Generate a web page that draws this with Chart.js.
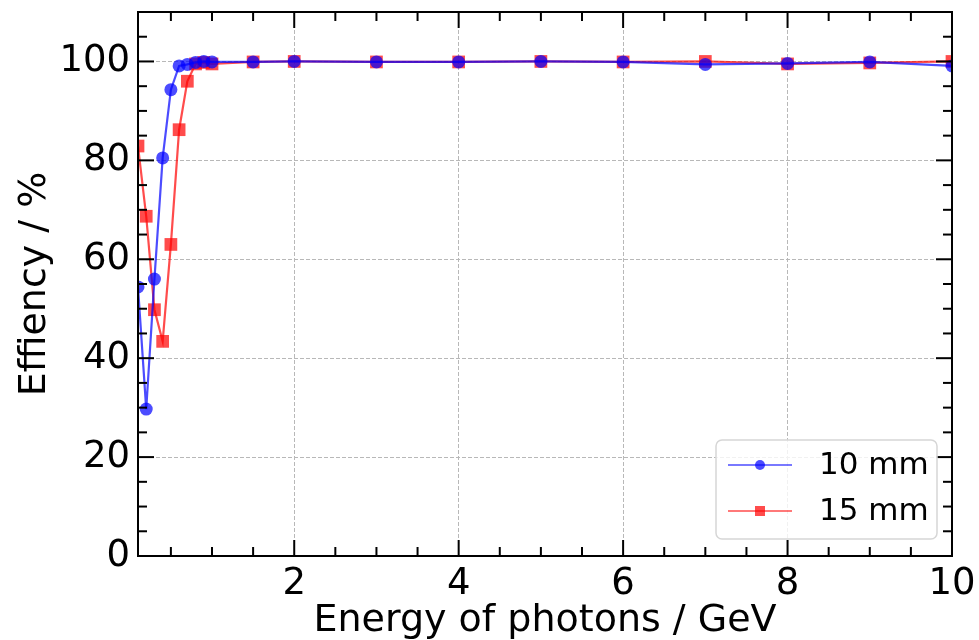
<!DOCTYPE html>
<html lang="en">
<head>
<meta charset="UTF-8" />
<title>Efficiency vs photon energy</title>
<script src="https://cdn.jsdelivr.net/npm/chart.js"></script>
<style>
  html, body { margin: 0; padding: 0; background: #fff; }
  #wrap { width: 979px; height: 640px; }
</style>
</head>
<body>
<div id="wrap"><canvas id="chart" width="979" height="640"></canvas></div>
<script>
// values
const energies = [0.1, 0.2, 0.3, 0.4, 0.5, 0.6, 0.7, 0.8, 0.9, 1.0, 1.5, 2, 3, 4, 5, 6, 7, 8, 9, 10];
const eff10mm = [54.4, 29.7, 56.0, 80.5, 94.3, 99.1, 99.4, 99.8, 100, 99.9, 99.9, 100, 99.9, 99.9, 100, 99.9, 99.4, 99.6, 99.9, 99.1];
const eff15mm = [82.9, 68.7, 49.8, 43.4, 63.0, 86.2, 96.0, 99.5, 99.8, 99.5, 99.9, 100, 99.9, 99.9, 100, 99.9, 100, 99.5, 99.7, 100];
const seriesLabels = ["10 mm", "15 mm"];
const xTicks = [2, 4, 6, 8, 10];
const yTicks = [0, 20, 40, 60, 80, 100];
const xMinorStep = 0.5;
const yMinorStep = 5;

const FONT = "'DejaVu Sans', sans-serif";
const BLUE = "rgba(0,0,255,0.7)";
const RED = "rgba(255,0,0,0.7)";

// inward ticks on all four sides + black frame
const frameTicks = {
  id: "frameTicks",
  afterDatasetsDraw(chart) {
    const { ctx, chartArea: a, scales: { x, y } } = chart;
    ctx.save();
    ctx.strokeStyle = "#000";
    ctx.lineWidth = 2;
    const seg = (x1, y1, x2, y2) => { ctx.beginPath(); ctx.moveTo(x1, y1); ctx.lineTo(x2, y2); ctx.stroke(); };
    const doX = (v, len) => {
      const px = x.getPixelForValue(v);
      seg(px, a.bottom, px, a.bottom - len);
      seg(px, a.top, px, a.top + len);
    };
    const doY = (v, len) => {
      const py = y.getPixelForValue(v);
      seg(a.left, py, a.left + len, py);
      seg(a.right, py, a.right - len, py);
    };
    for (let v = xMinorStep; v < x.max; v += xMinorStep) {
      if (v < x.min || xTicks.includes(v)) continue;
      doX(v, 9);
    }
    xTicks.forEach(v => doX(v, 16));
    for (let v = yMinorStep; v < y.max; v += yMinorStep) {
      if (yTicks.includes(v)) continue;
      doY(v, 9);
    }
    yTicks.forEach(v => doY(v, 16));
    ctx.strokeRect(a.left, a.top, a.right - a.left, a.bottom - a.top);
    ctx.restore();
  }
};

// matplotlib-like legend in the lower right
const boxLegend = {
  id: "boxLegend",
  afterDraw(chart) {
    const { ctx, chartArea: a } = chart;
    const w = 221, h = 99;
    const bx = a.right - 15 - w, by = a.bottom - 17 - h;
    ctx.save();
    ctx.beginPath();
    ctx.roundRect(bx, by, w, h, 6);
    ctx.fillStyle = "rgba(255,255,255,0.8)";
    ctx.fill();
    ctx.strokeStyle = "#d6d6d6";
    ctx.lineWidth = 1.5;
    ctx.stroke();
    chart.data.datasets.forEach((ds, i) => {
      const cy = by + 25 + i * 46;
      ctx.strokeStyle = ds.borderColor;
      ctx.lineWidth = 1.6;
      ctx.beginPath();
      ctx.moveTo(bx + 12, cy);
      ctx.lineTo(bx + 76, cy);
      ctx.stroke();
      ctx.fillStyle = ds.backgroundColor;
      const mx = bx + 44;
      if (ds.pointStyle === "rect") {
        ctx.fillRect(mx - 5, cy - 5, 10, 10);
      } else {
        ctx.beginPath();
        ctx.arc(mx, cy, 5, 0, Math.PI * 2);
        ctx.fill();
      }
      ctx.fillStyle = "#000";
      ctx.font = "31px " + FONT;
      ctx.textBaseline = "middle";
      ctx.fillText(ds.label, bx + 103, cy + 1);
    });
    ctx.restore();
  }
};

const toPoints = (xs, ys) => xs.map((v, i) => ({ x: v, y: ys[i] }));

new Chart(document.getElementById("chart"), {
  type: "line",
  data: {
    datasets: [
      {
        label: seriesLabels[0],
        data: toPoints(energies, eff10mm),
        borderColor: BLUE,
        backgroundColor: BLUE,
        borderWidth: 2.2,
        pointStyle: "circle",
        pointRadius: 6.5,
        pointBorderWidth: 0,
        tension: 0
      },
      {
        label: seriesLabels[1],
        data: toPoints(energies, eff15mm),
        borderColor: RED,
        backgroundColor: RED,
        borderWidth: 2.2,
        pointStyle: "rect",
        pointRadius: 9,
        pointBorderWidth: 0,
        tension: 0
      }
    ]
  },
  options: {
    responsive: false,
    animation: false,
    layout: { autoPadding: false, padding: { top: 12, right: 27, left: 0, bottom: 0 } },
    plugins: { legend: { display: false }, tooltip: { enabled: false } },
    scales: {
      x: {
        type: "linear",
        min: 0.1,
        max: 10,
        afterBuildTicks: s => { s.ticks = xTicks.map(v => ({ value: v })); },
        afterFit: s => { s.height = 84; s.paddingLeft = 0; s.paddingRight = 0; },
        grid: { color: "#b8b8b8", lineWidth: 1, drawTicks: false },
        border: { display: false, dash: [4, 2] },
        ticks: { color: "#000", padding: 6, maxRotation: 0, font: { family: FONT, size: 37 } },
        title: {
          display: true,
          text: "Energy of photons / GeV",
          color: "#000",
          font: { family: FONT, size: 38, lineHeight: 1 },
          padding: 0
        }
      },
      y: {
        min: 0,
        max: 110,
        afterBuildTicks: s => { s.ticks = yTicks.map(v => ({ value: v })); },
        afterFit: s => { s.width = 138; s.paddingTop = 0; s.paddingBottom = 0; },
        grid: { color: "#b8b8b8", lineWidth: 1, drawTicks: false },
        border: { display: false, dash: [4, 2] },
        ticks: { color: "#000", padding: 8, font: { family: FONT, size: 37 } },
        title: {
          display: true,
          text: "Effiency / %",
          color: "#000",
          font: { family: FONT, size: 38, lineHeight: 1 },
          padding: { top: 16, bottom: 0 }
        }
      }
    }
  },
  plugins: [frameTicks, boxLegend]
});
</script>
</body>
</html>
